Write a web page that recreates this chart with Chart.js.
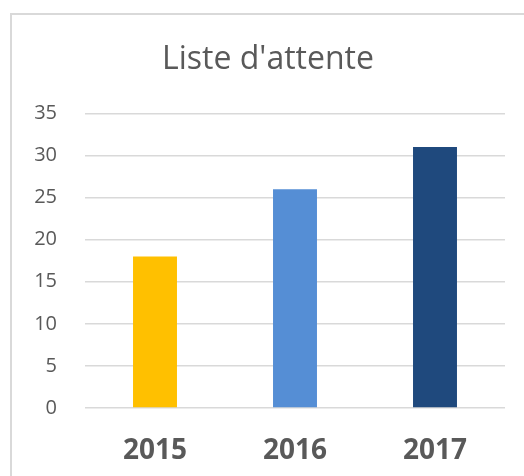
<!DOCTYPE html>
<html>
<head>
<meta charset="utf-8">
<script src="https://cdn.jsdelivr.net/npm/chart.js@4/dist/chart.umd.min.js"></script>
<style>
  html, body { margin: 0; padding: 0; background: #fff; overflow: hidden; }
  #wrap { position: relative; width: 524px; height: 476px; overflow: hidden; }
  #frame {
    position: absolute; left: 10px; top: 13px; width: 600px; height: 600px;
    border-left: 2px solid #d9d9d9; border-top: 2px solid #d9d9d9;
    pointer-events: none;
  }
</style>
</head>
<body>
<div id="wrap">
  <canvas id="chart-1" width="524" height="476"></canvas>
  <div id="frame"></div>
</div>
<script>
// data
const years = ["2015", "2016", "2017"];
const waiting = [18, 26, 31];
const yTicks = [0, 5, 10, 15, 20, 25, 30, 35];

const barColors = ["#FFC000", "#558ED5", "#1F497D"];
const textGrey = "#595959";

const ctx1 = document.getElementById("chart-1");

var chartOptions = {
  responsive: false,
  animation: false,
  layout: {
    padding: { left: 31, right: 19, top: 0, bottom: 0 },
  },
  plugins: {
    legend: { display: false },
    tooltip: { enabled: false },
    title: {
      display: true,
      text: "Liste d'attente",
      color: textGrey,
      font: { family: "Open Sans", size: 32, weight: "normal" },
      padding: { top: 41, bottom: 34 },
    },
  },
  scales: {
    x: {
      grid: { display: false, drawTicks: false },
      border: { display: false },
      afterFit: function (scale) {
        scale.height = 68;
      },
      ticks: {
        color: textGrey,
        padding: 26,
        font: { family: "Open Sans", size: 28, weight: "bold" },
      },
    },
    y: {
      min: yTicks[0],
      max: yTicks[yTicks.length - 1],
      border: { display: false },
      grid: { color: "#d9d9d9", lineWidth: 1.5, drawTicks: false },
      afterFit: function (scale) {
        scale.width = 54;
      },
      afterBuildTicks: function (scale) {
        scale.ticks = yTicks.map((v) => ({ value: v }));
      },
      ticks: {
        color: textGrey,
        padding: 28,
        font: { family: "Open Sans", size: 20 },
      },
    },
  },
};

var barChart = new Chart(ctx1, {
  type: "bar",
  data: {
    labels: years,
    datasets: [
      {
        label: "Liste d'attente",
        data: waiting,
        backgroundColor: barColors,
        categoryPercentage: 1,
        barPercentage: 0.314,
      },
    ],
  },
  options: chartOptions,
});
</script>
</body>
</html>
